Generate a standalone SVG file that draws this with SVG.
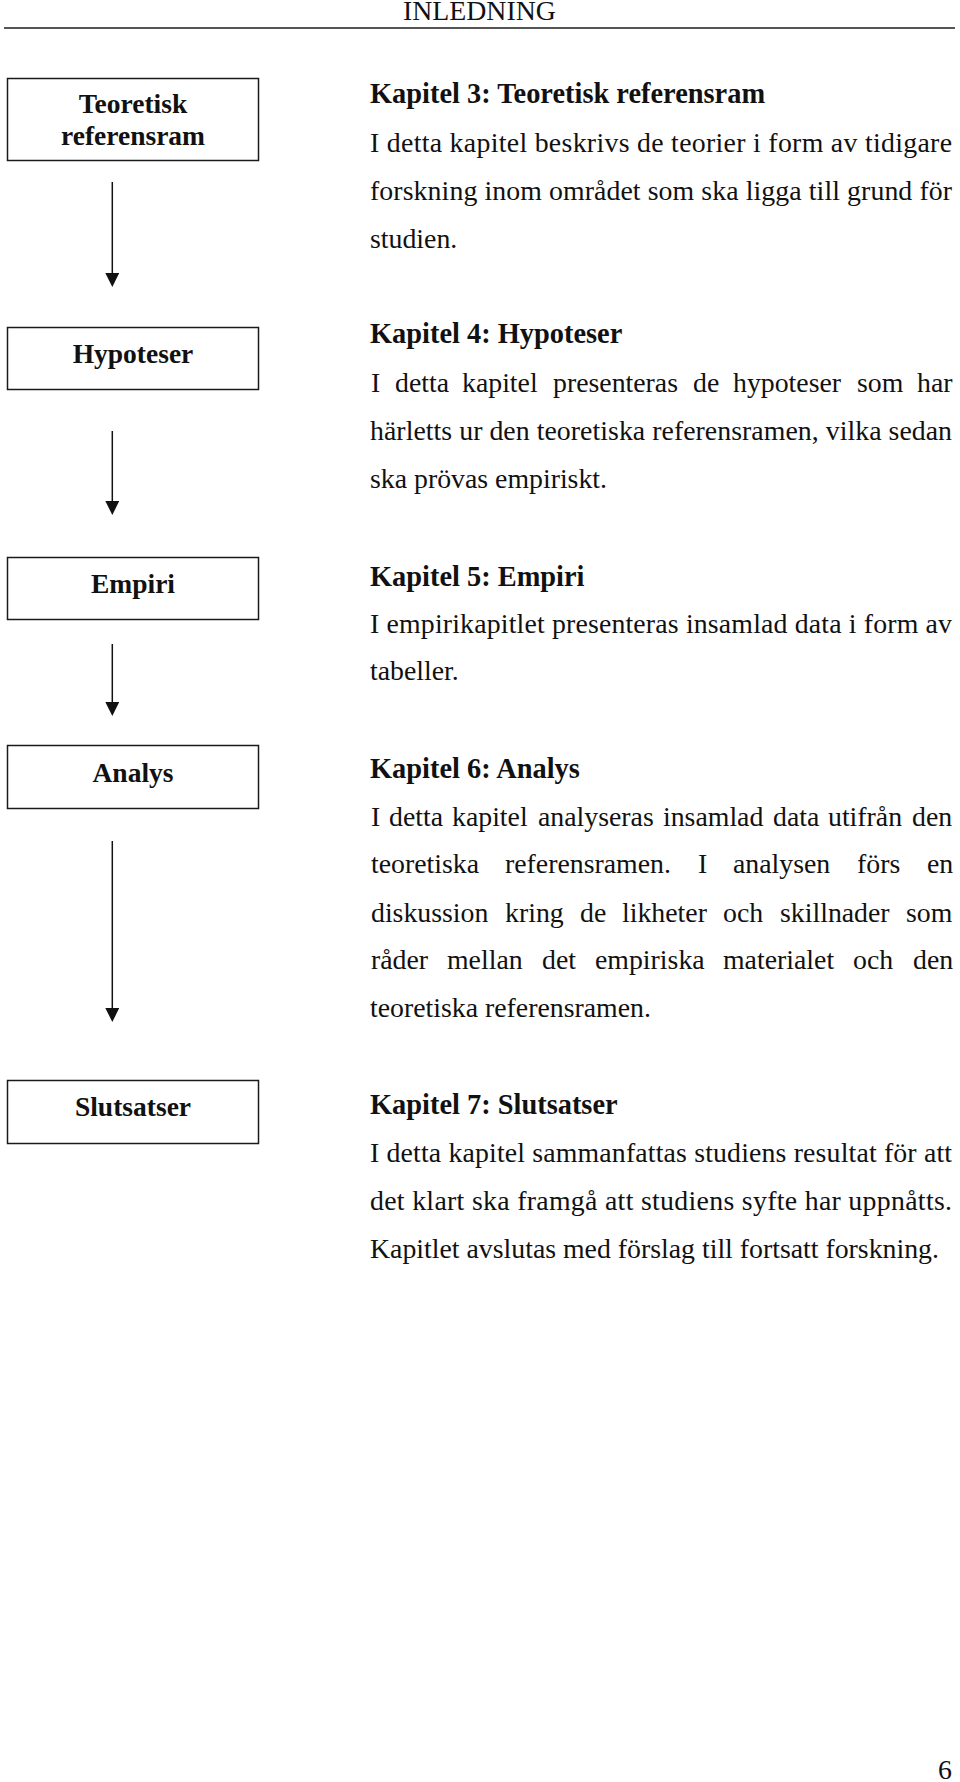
<svg xmlns="http://www.w3.org/2000/svg" width="960" height="1782" viewBox="0 0 960 1782">
<style>
.t{font-family:"Liberation Serif","Times New Roman",serif;font-size:27.8px;fill:#111}
.hd{font-weight:bold;font-size:28.4px}
.lbl{font-family:"Liberation Serif","Times New Roman",serif;font-size:27.5px;font-weight:bold;fill:#111;text-anchor:middle}
.box{fill:#fff;stroke:#1a1a1a;stroke-width:1.5}
.con{stroke:#111;stroke-width:1.5;fill:none;marker-end:url(#ah)}
</style>
<defs>
<marker id="ah" markerUnits="userSpaceOnUse" markerWidth="14" markerHeight="14" refX="11" refY="7" orient="auto" viewBox="0 0 14 14">
<path d="M0,0 L14,7 L0,14 Z" fill="#111"/>
</marker>
</defs>
<rect width="960" height="1782" fill="#fff"/>
<g id="header">
<text class="t" x="403" y="20">INLEDNING</text>
<line x1="4" y1="28" x2="955" y2="28" stroke="#555" stroke-width="2"/>
</g>
<g id="node-teoretisk">
<rect class="box" x="7.5" y="78.5" width="251" height="82"/>
<text class="lbl" x="133" y="113">Teoretisk</text>
<text class="lbl" x="133" y="145">referensram</text>
</g>
<g id="node-hypoteser">
<rect class="box" x="7.5" y="327.5" width="251" height="62"/>
<text class="lbl" x="133" y="363">Hypoteser</text>
</g>
<g id="node-empiri">
<rect class="box" x="7.5" y="557.5" width="251" height="62"/>
<text class="lbl" x="133" y="593">Empiri</text>
</g>
<g id="node-analys">
<rect class="box" x="7.5" y="745.5" width="251" height="63"/>
<text class="lbl" x="133" y="782">Analys</text>
</g>
<g id="node-slutsatser">
<rect class="box" x="7.5" y="1080.5" width="251" height="63"/>
<text class="lbl" x="133" y="1116">Slutsatser</text>
</g>
<g id="connectors">
<line class="con" x1="112.3" y1="182" x2="112.3" y2="284"/>
<line class="con" x1="112.3" y1="431" x2="112.3" y2="512"/>
<line class="con" x1="112.3" y1="644" x2="112.3" y2="713"/>
<line class="con" x1="112.3" y1="841" x2="112.3" y2="1019"/>
</g>
<g id="desc-kapitel3">
<text class="t hd" x="370" y="103">Kapitel 3: Teoretisk referensram</text>
<text class="t" x="370" y="152" textLength="582" lengthAdjust="spacing">I detta kapitel beskrivs de teorier i form av tidigare</text>
<text class="t" x="370" y="200" textLength="582" lengthAdjust="spacing">forskning inom området som ska ligga till grund för</text>
<text class="t" x="370" y="248">studien.</text>
</g>
<g id="desc-kapitel4">
<text class="t hd" x="370" y="343">Kapitel 4: Hypoteser</text>
<text class="t" y="392"><tspan x="371">I</tspan><tspan x="395">detta</tspan><tspan x="462">kapitel</tspan><tspan x="553">presenteras</tspan><tspan x="693">de</tspan><tspan x="733">hypoteser</tspan><tspan x="857">som</tspan><tspan x="917">har</tspan></text>
<text class="t" x="370" y="440" textLength="582" lengthAdjust="spacing">härletts ur den teoretiska referensramen, vilka sedan</text>
<text class="t" x="370" y="488">ska prövas empiriskt.</text>
</g>
<g id="desc-kapitel5">
<text class="t hd" x="370" y="586">Kapitel 5: Empiri</text>
<text class="t" x="370" y="633" textLength="582" lengthAdjust="spacing">I empirikapitlet presenteras insamlad data i form av</text>
<text class="t" x="370" y="680">tabeller.</text>
</g>
<g id="desc-kapitel6">
<text class="t hd" x="370" y="778">Kapitel 6: Analys</text>
<text class="t" y="826"><tspan x="371">I</tspan><tspan x="389">detta</tspan><tspan x="452">kapitel</tspan><tspan x="538">analyseras</tspan><tspan x="663">insamlad</tspan><tspan x="773">data</tspan><tspan x="828">utifrån</tspan><tspan x="912">den</tspan></text>
<text class="t" y="873"><tspan x="371">teoretiska</tspan><tspan x="505">referensramen.</tspan><tspan x="698">I</tspan><tspan x="733">analysen</tspan><tspan x="857">förs</tspan><tspan x="927">en</tspan></text>
<text class="t" y="922"><tspan x="371">diskussion</tspan><tspan x="505">kring</tspan><tspan x="580">de</tspan><tspan x="622">likheter</tspan><tspan x="723">och</tspan><tspan x="780">skillnader</tspan><tspan x="906">som</tspan></text>
<text class="t" y="969"><tspan x="371">råder</tspan><tspan x="447">mellan</tspan><tspan x="542">det</tspan><tspan x="595">empiriska</tspan><tspan x="723">materialet</tspan><tspan x="853">och</tspan><tspan x="913">den</tspan></text>
<text class="t" x="370" y="1017">teoretiska referensramen.</text>
</g>
<g id="desc-kapitel7">
<text class="t hd" x="370" y="1114">Kapitel 7: Slutsatser</text>
<text class="t" x="370" y="1162" textLength="582" lengthAdjust="spacing">I detta kapitel sammanfattas studiens resultat för att</text>
<text class="t" x="370" y="1210" textLength="582" lengthAdjust="spacing">det klart ska framgå att studiens syfte har uppnåtts.</text>
<text class="t" x="370" y="1258">Kapitlet avslutas med förslag till fortsatt forskning.</text>
</g>
<g id="page-number">
<text class="t" x="938" y="1779">6</text>
</g>
</svg>
